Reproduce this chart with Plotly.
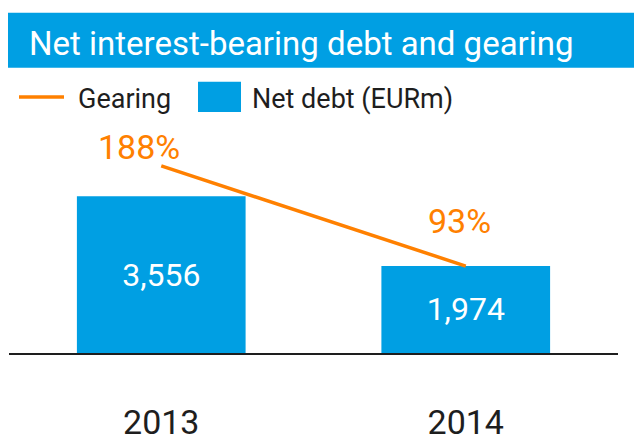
import plotly.graph_objects as go

years = ["2013", "2014"]
net_debt = [3556, 1974]
gearing = [188, 93]
gearing_labels = ["188%", "93%"]

BLUE = "#009FE3"
ORANGE = "#FF8000"
DARK = "#1E1E1E"
FONT = "Roboto"

W, H = 642, 435
# plot area in figure pixels (page has an 8px body margin)
L, R, T, B = 1, 610, 122, 358


def px(x):
    return (x - L) / (R - L)


def py(y):
    return (B - y) / (B - T)


fig = go.Figure()
fig.add_trace(go.Bar(
    x=years, y=net_debt, marker=dict(color=BLUE, line=dict(width=0)),
    texttemplate="%{y:,}", textposition="inside", insidetextanchor="middle",
    textfont=dict(family=FONT, size=32, color="white"),
    showlegend=False, hoverinfo="skip",
))
fig.add_trace(go.Scatter(
    x=years, y=gearing, yaxis="y2", mode="lines",
    line=dict(color=ORANGE, width=3.5), showlegend=False, hoverinfo="skip",
))

annotations = []
shifts = [(-22, 19), (-6, 45)]
for i, (g, lab, (dx, dy)) in enumerate(zip(gearing, gearing_labels, shifts)):
    annotations.append(dict(
        x=i, y=g, xref="x", yref="y2", text=lab, showarrow=False,
        xanchor="center", yanchor="middle", xshift=dx, yshift=dy,
        font=dict(family=FONT, size=34, color=ORANGE),
    ))

# legend (drawn by hand)
annotations.append(dict(x=px(68), y=py(89), xref="paper", yref="paper", text="Gearing",
                        showarrow=False, xanchor="left", yanchor="middle",
                        font=dict(family=FONT, size=27, color=DARK)))
annotations.append(dict(x=px(242), y=py(89), xref="paper", yref="paper", text="Net debt (EURm)",
                        showarrow=False, xanchor="left", yanchor="middle",
                        font=dict(family=FONT, size=27, color=DARK)))
# title
annotations.append(dict(x=px(19), y=py(30), xref="paper", yref="paper",
                        text="Net interest-bearing debt and gearing",
                        showarrow=False, xanchor="left", yanchor="middle",
                        font=dict(family=FONT, size=33, color="white")))

shapes = [
    dict(type="rect", xref="paper", yref="paper", x0=px(-2), x1=px(642), y0=py(56), y1=py(-2),
         fillcolor=BLUE, line=dict(width=0), layer="below"),
    dict(type="line", xref="paper", yref="paper", x0=px(11), x1=px(56), y0=py(87), y1=py(87),
         line=dict(color=ORANGE, width=3.5)),
    dict(type="rect", xref="paper", yref="paper", x0=px(190), x1=px(233), y0=py(103), y1=py(71),
         fillcolor=BLUE, line=dict(width=0)),
]

fig.update_layout(
    width=W, height=H,
    margin=dict(l=L, r=W - R, t=T, b=H - B, pad=0),
    paper_bgcolor="white", plot_bgcolor="white",
    bargap=0.446,
    xaxis=dict(type="category", range=[-0.5, 1.5], showline=True, linecolor=DARK, linewidth=2,
               showgrid=False, zeroline=False, ticks="", ticklabelstandoff=38,
               tickfont=dict(family=FONT, size=34, color=DARK)),
    yaxis=dict(range=[0, 5056], showticklabels=False, showline=False, showgrid=False, zeroline=False),
    yaxis2=dict(range=[10.55, 222.05], overlaying="y", side="right", showticklabels=False,
                showline=False, showgrid=False, zeroline=False),
    annotations=annotations, shapes=shapes,
)

fig.write_html("out.html")
